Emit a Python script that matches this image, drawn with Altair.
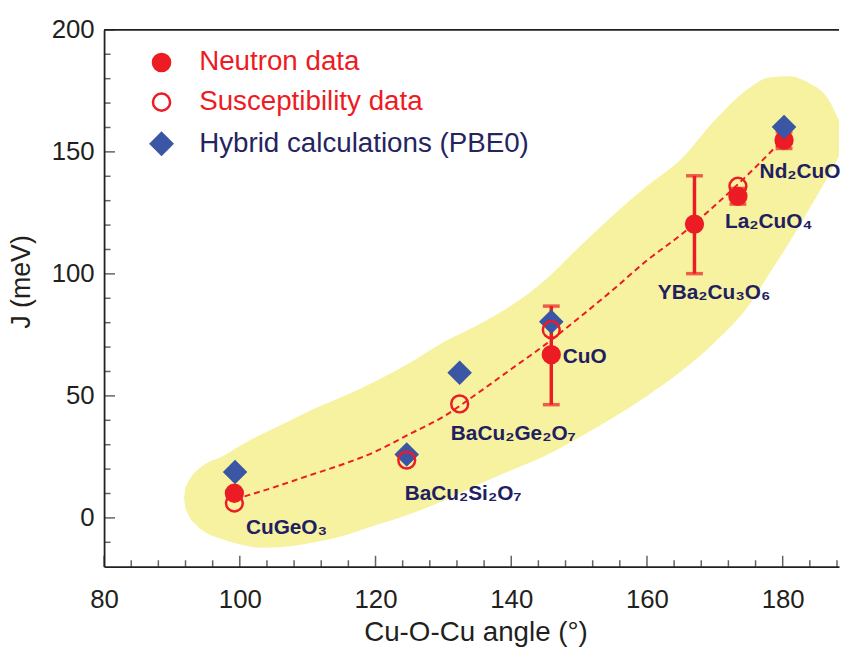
import altair as alt
import pandas as pd

# ---- data ----
compounds = ["CuGeO₃", "BaCu₂Si₂O₇", "BaCu₂Ge₂O₇", "CuO", "YBa₂Cu₃O₆", "La₂CuO₄", "Nd₂CuO₄"]
label_x = [100.9, 124.3, 131.1, 147.6, 161.6, 171.5, 176.6]
label_y = [-6.8, 7.4, 31.8, 63.6, 89.9, 119.0, 139.2]

neutron_x = [99.2, 145.9, 167.0, 173.4, 180.2]
neutron_y = [10.1, 66.9, 120.4, 131.8, 154.8]

err_x = [145.9, 167.0, 173.4, 180.2]
err_lo = [46.4, 100.1, 128.6, 151.4]
err_hi = [86.8, 140.2, 135.0, 158.2]

susc_x = [99.2, 124.6, 132.4, 145.9, 173.4]
susc_y = [6.1, 23.7, 46.7, 77.1, 135.9]

hybrid_x = [99.3, 124.6, 132.4, 145.9, 180.2]
hybrid_y = [18.8, 26.0, 59.5, 80.4, 160.2]

fit_x = [99.3, 105, 110, 115, 120, 125, 130, 135, 140, 145, 150, 155, 160, 165, 170, 175, 180]
fit_y = [7.7, 12.5, 17.2, 21.8, 27.2, 34.3, 41.5, 51.0, 61.0, 71.0, 82.0, 93.5, 105.5, 116.0, 128.0, 141.0, 155.0]

blob_x = [91.8, 91.95, 92.24, 92.68, 93.26, 94.14, 95.3, 96.76, 100, 103, 106, 110, 115, 120, 125, 130,
          135, 140, 145, 150, 155, 160, 165, 170, 175, 178, 181, 184, 186.5, 188.6]
blob_upper = [8.1, 11.5, 13.9, 16.2, 18.3, 20.6, 22.7, 24.3, 29.5, 34, 38, 43.5, 49.5, 56, 63.5, 72,
              79, 87, 97.5, 111, 124, 136, 147, 163, 176, 180.5, 181, 178, 172.5, 161]
blob_lower = [8.1, 4.7, 2.3, 0.0, -2.1, -4.4, -6.5, -8.1, -10.8, -12.2, -12, -10.5, -7.5, -3, 1.5, 7,
              13.5, 19.5, 25.5, 33, 41, 50, 60, 72, 87, 100, 113, 127, 139, 150]

x_major = [80, 100, 120, 140, 160, 180]
x_minor = [84, 88, 92, 96, 104, 108, 112, 116, 124, 128, 132, 136, 144, 148, 152, 156, 164, 168, 172, 176, 184, 188]
y_major = [0, 50, 100, 150, 200]
y_minor = [-10, 10, 20, 30, 40, 60, 70, 80, 90, 110, 120, 130, 140, 160, 170, 180, 190]

series_names = ["Neutron data", "Susceptibility data", "Hybrid calculations (PBE0)"]

# ---- styling ----
RED = "#ec1c24"
NAVY_LABEL = "#1f2060"
BLUE = "#3b56a5"
YELLOW = "#f6f2a0"
AXIS_C = "#231f20"
FONT = "Liberation Sans"
BIG_DIAMOND = "M-1.25,0L0,-1.25L1.25,0L0,1.25Z"
X_MIN, X_MAX = 80, 188.3
Y_MIN, Y_MAX = -20, 200
W, H = 742, 542

xs = alt.Scale(domain=[X_MIN, X_MAX], nice=False, zero=False)
ys = alt.Scale(domain=[Y_MIN, Y_MAX], nice=False, zero=False)
x_axis = alt.Axis(values=x_major, ticks=False, grid=False, labelPadding=20, labelFontSize=26,
                  titleFontSize=28, titlePadding=7, titleX=375, labelFlush=False, domainWidth=1.8)
y_axis = alt.Axis(values=y_major, ticks=False, grid=False, labelPadding=10, labelFontSize=26,
                  titleFontSize=27, titleX=-69, titleY=254, labelFlush=False, domainWidth=1.8)


def X(field, **kw):
    return alt.X(field, type="quantitative", scale=xs, axis=x_axis, title="Cu-O-Cu angle (°)", **kw)


def Y(field, **kw):
    return alt.Y(field, type="quantitative", scale=ys, axis=y_axis, title="J (meV)", **kw)


blob_df = pd.DataFrame({"x": blob_x, "up": blob_upper, "lo": blob_lower})
blob = alt.Chart(blob_df).mark_area(color=YELLOW, interpolate="monotone", clip=True).encode(
    x=X("x"), y=Y("up"), y2="lo")

fit_df = pd.DataFrame({"x": fit_x, "y": fit_y})
fit = alt.Chart(fit_df).mark_line(color=RED, strokeWidth=2, strokeDash=[6, 4], interpolate="monotone").encode(
    x=X("x"), y=Y("y"))

err_df = pd.DataFrame({"x": err_x, "lo": err_lo, "hi": err_hi})
err_rule = alt.Chart(err_df).mark_rule(color=RED, strokeWidth=3.5).encode(x=X("x"), y=Y("lo"), y2="hi")
cap_df = pd.DataFrame({"x": err_x + err_x, "y": err_lo + err_hi})
err_cap = alt.Chart(cap_df).mark_tick(color=RED, orient="horizontal", size=17, thickness=3.5).encode(
    x=X("x"), y=Y("y"))

pts = pd.concat([
    pd.DataFrame({"x": neutron_x, "y": neutron_y, "series": series_names[0]}),
    pd.DataFrame({"x": hybrid_x, "y": hybrid_y, "series": series_names[2]}),
    pd.DataFrame({"x": susc_x, "y": susc_y, "series": series_names[1]}),
], ignore_index=True)

legend = alt.Legend(
    title=None, orient="none", legendX=44, legendY=19, padding=0, labelLimit=0,
    labelFont=FONT, labelFontSize=28, labelOffset=24, rowPadding=12, symbolStrokeWidth=2.5,
    symbolSize=300,
    labelColor={"expr": "datum.label == 'Hybrid calculations (PBE0)' ? '#25245e' : '#ec1c24'"},
)
sdom = series_names
points = alt.Chart(pts).mark_point(strokeWidth=2.5, opacity=1, size=289).encode(
    x=X("x"), y=Y("y"),
    shape=alt.Shape("series:N", scale=alt.Scale(domain=sdom, range=["circle", "circle", BIG_DIAMOND]), legend=legend),
    fill=alt.Fill("series:N", scale=alt.Scale(domain=sdom, range=[RED, "transparent", BLUE]), legend=legend),
    stroke=alt.Stroke("series:N", scale=alt.Scale(domain=sdom, range=[RED, RED, BLUE]), legend=legend),
)

lab_df = pd.DataFrame({"x": label_x, "y": label_y, "t": compounds})
labels = alt.Chart(lab_df).mark_text(align="left", baseline="alphabetic", font=FONT, fontSize=21,
                                     fontWeight="bold", color=NAVY_LABEL).encode(
    x=X("x"), y=Y("y"), text="t")

xmaj = alt.Chart(pd.DataFrame({"v": x_major})).mark_tick(orient="vertical", size=11, thickness=1.5,
                                                         yOffset=-5.5, color=AXIS_C).encode(
    x=X("v"), y=alt.datum(Y_MIN))
xmin = alt.Chart(pd.DataFrame({"v": x_minor})).mark_tick(orient="vertical", size=6.5, thickness=1.5,
                                                         yOffset=-3.25, color=AXIS_C).encode(
    x=X("v"), y=alt.datum(Y_MIN))
ymaj = alt.Chart(pd.DataFrame({"v": y_major})).mark_tick(orient="horizontal", size=11, thickness=1.5,
                                                         xOffset=5.5, color=AXIS_C).encode(
    y=Y("v"), x=alt.datum(X_MIN))
ymin = alt.Chart(pd.DataFrame({"v": y_minor})).mark_tick(orient="horizontal", size=6.5, thickness=1.5,
                                                         xOffset=3.25, color=AXIS_C).encode(
    y=Y("v"), x=alt.datum(X_MIN))
frame = alt.Chart(pd.DataFrame({"v": [Y_MAX]})).mark_rule(color=AXIS_C, strokeWidth=1.8).encode(
    y=Y("v"), x=alt.datum(X_MIN), x2=alt.datum(X_MAX))

chart = alt.layer(blob, fit, err_rule, err_cap, points, labels, xmaj, xmin, ymaj, ymin, frame).properties(
    width=W, height=H,
    autosize=alt.AutoSizeParams(type="none"),
    padding={"left": 97, "top": 19, "right": 2, "bottom": 79},
).configure_view(stroke=None).configure_axis(
    labelFont=FONT, titleFont=FONT, labelColor=AXIS_C, titleColor=AXIS_C, domainColor=AXIS_C,
    titleFontWeight="normal",
)

chart.save("out.html", embed_options={"renderer": "svg", "actions": False})
